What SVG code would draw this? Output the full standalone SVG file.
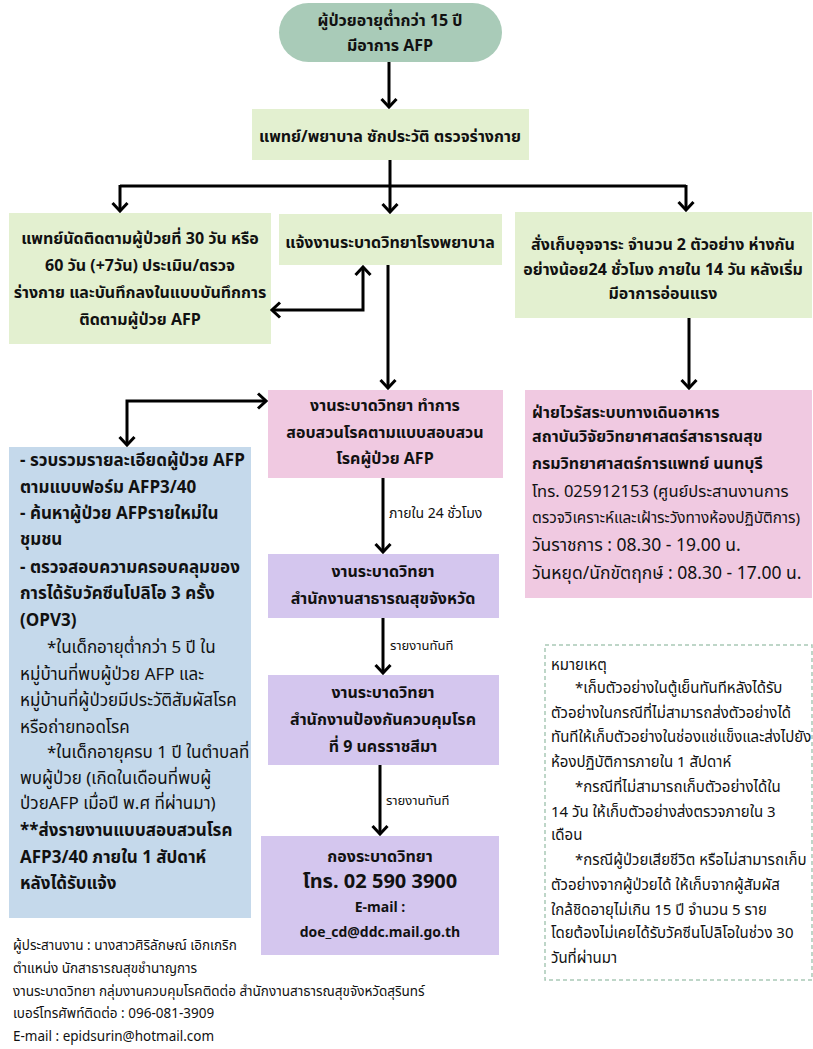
<svg xmlns="http://www.w3.org/2000/svg" width="813" height="1049" viewBox="0 0 813 1049">
<style>
text{font-family:"Noto Sans Thai","Noto Sans","Liberation Sans",sans-serif;fill:#111;}
.b{font-weight:bold;font-size:16px;}
.r{font-weight:normal;font-size:15px;}
.c{text-anchor:middle;}
.sm{font-size:13px;font-weight:normal;}
.nt{font-size:15px;font-weight:normal;}
.ft{font-size:13.5px;font-weight:normal;}
.bx{font-size:17px;}
.green{fill:#e3f0d0;}
.pink{fill:#f0c9e1;}
.blue{fill:#c5d9eb;}
.purple{fill:#d4c6ee;}
.ln{fill:none;stroke:#000;stroke-width:3;}
</style>
<defs>
<marker id="ah" viewBox="0 0 12 18" refX="10" refY="9" markerWidth="12" markerHeight="18" markerUnits="userSpaceOnUse" orient="auto-start-reverse">
<path d="M2,1.5 L10,9 L2,16.5" fill="none" stroke="#000" stroke-width="3"/>
</marker>
</defs>
<rect width="813" height="1049" fill="#fff"/>

<g id="start">
<rect x="279" y="3" width="223" height="59" rx="29.5" fill="#a9cbb8"/>
<text class="b c" x="390" y="26">ผู้ป่วยอายุต่ำกว่า 15 ปี</text>
<text class="b c" x="390" y="51">มีอาการ AFP</text>
</g>

<g id="history">
<rect class="green" x="252" y="109" width="277" height="51"/>
<text class="b c" x="390" y="142">แพทย์/พยาบาล ซักประวัติ ตรวจร่างกาย</text>
</g>

<g id="followup">
<rect class="green" x="9" y="213" width="262" height="131"/>
<text class="b c" x="140" y="244">แพทย์นัดติดตามผู้ป่วยที่ 30 วัน หรือ</text>
<text class="b c" x="140" y="271">60 วัน (+7วัน) ประเมิน/ตรวจ</text>
<text class="b c" x="140" y="298">ร่างกาย และบันทึกลงในแบบบันทึกการ</text>
<text class="b c" x="140" y="325">ติดตามผู้ป่วย AFP</text>
</g>

<g id="notify">
<rect class="green" x="279" y="214" width="223" height="51"/>
<text class="b c" x="390" y="248">แจ้งงานระบาดวิทยาโรงพยาบาล</text>
</g>

<g id="stool">
<rect class="green" x="515" y="212" width="297" height="106"/>
<text class="b c" x="663" y="250">สั่งเก็บอุจจาระ จำนวน 2 ตัวอย่าง ห่างกัน</text>
<text class="b c" x="663" y="275">อย่างน้อย24 ชั่วโมง ภายใน 14 วัน หลังเริ่ม</text>
<text class="b c" x="663" y="299">มีอาการอ่อนแรง</text>
</g>

<g id="investigate">
<rect class="pink" x="268" y="390" width="235" height="88"/>
<text class="b c" x="385" y="411">งานระบาดวิทยา ทำการ</text>
<text class="b c" x="385" y="438">สอบสวนโรคตามแบบสอบสวน</text>
<text class="b c" x="385" y="464">โรคผู้ป่วย AFP</text>
</g>

<g id="lab">
<rect class="pink" x="525" y="390" width="287" height="208"/>
<text class="b" x="532" y="418">ฝ่ายไวรัสระบบทางเดินอาหาร</text>
<text class="b" x="532" y="442">สถาบันวิจัยวิทยาศาสตร์สาธารณสุข</text>
<text class="b" x="532" y="469">กรมวิทยาศาสตร์การแพทย์ นนทบุรี</text>
<text class="r" x="532" y="497" style="font-size:16.5px">โทร. 025912153 (ศูนย์ประสานงานการ</text>
<text class="r" x="532" y="523" style="font-size:15.3px">ตรวจวิเคราะห์และเฝ้าระวังทางห้องปฏิบัติการ)</text>
<text class="r" x="532" y="551" style="font-size:17.5px">วันราชการ : 08.30 - 19.00 น.</text>
<text class="r" x="532" y="579" style="font-size:17.5px">วันหยุด/นักขัตฤกษ์ : 08.30 - 17.00 น.</text>
</g>

<g id="community">
<rect class="blue" x="9" y="447" width="242" height="471"/>
<text class="b bx" x="20" y="466">- รวบรวมรายละเอียดผู้ป่วย AFP</text>
<text class="b bx" x="20" y="493">ตามแบบฟอร์ม AFP3/40</text>
<text class="b bx" x="20" y="519">- ค้นหาผู้ป่วย AFPรายใหม่ใน</text>
<text class="b bx" x="20" y="545">ชุมชน</text>
<text class="b bx" x="20" y="573">- ตรวจสอบความครอบคลุมของ</text>
<text class="b bx" x="20" y="599">การได้รับวัคซีนโปลิโอ 3 ครั้ง</text>
<text class="b bx" x="20" y="626">(OPV3)</text>
<text class="r bx" x="47" y="653">*ในเด็กอายุต่ำกว่า 5 ปี ใน</text>
<text class="r bx" x="20" y="680">หมู่บ้านที่พบผู้ป่วย AFP และ</text>
<text class="r bx" x="20" y="706">หมู่บ้านที่ผู้ป่วยมีประวัติสัมผัสโรค</text>
<text class="r bx" x="20" y="733">หรือถ่ายทอดโรค</text>
<text class="r bx" x="47" y="758">*ในเด็กอายุครบ 1 ปี ในตำบลที่</text>
<text class="r bx" x="20" y="784">พบผู้ป่วย (เกิดในเดือนที่พบผู้</text>
<text class="r bx" x="20" y="809">ป่วยAFP เมื่อปี พ.ศ ที่ผ่านมา)</text>
<text class="b bx" x="20" y="836">**ส่งรายงานแบบสอบสวนโรค</text>
<text class="b bx" x="20" y="863">AFP3/40 ภายใน 1 สัปดาห์</text>
<text class="b bx" x="20" y="889">หลังได้รับแจ้ง</text>
</g>

<g id="province">
<rect class="purple" x="268" y="554" width="231" height="64"/>
<text class="b c" x="383" y="577">งานระบาดวิทยา</text>
<text class="b c" x="383" y="604">สำนักงานสาธารณสุขจังหวัด</text>
</g>

<g id="odpc">
<rect class="purple" x="268" y="675" width="231" height="90"/>
<text class="b c" x="383" y="698">งานระบาดวิทยา</text>
<text class="b c" x="383" y="725">สำนักงานป้องกันควบคุมโรค</text>
<text class="b c" x="383" y="752">ที่ 9 นครราชสีมา</text>
</g>

<g id="doe">
<rect class="purple" x="261" y="836" width="238" height="119"/>
<text class="b c" x="380" y="862">กองระบาดวิทยา</text>
<text class="b c" x="380" y="888" style="font-size:20px">โทร. 02 590 3900</text>
<text class="b c" x="380" y="912" style="font-size:14px">E-mail :</text>
<text class="b c" x="380" y="937" style="font-size:14px">doe_cd@ddc.mail.go.th</text>
</g>

<g id="note">
<rect x="545" y="645" width="267" height="335" fill="#fff" stroke="#a9c9b7" stroke-width="1.5" stroke-dasharray="4 3"/>
<text class="nt" x="551" y="670">หมายเหตุ</text>
<text class="nt" x="575" y="693">*เก็บตัวอย่างในตู้เย็นทันทีหลังได้รับ</text>
<text class="nt" x="551" y="718">ตัวอย่างในกรณีที่ไม่สามารถส่งตัวอย่างได้</text>
<text class="nt" x="551" y="742">ทันทีให้เก็บตัวอย่างในช่องแช่แข็งและส่งไปยัง</text>
<text class="nt" x="551" y="767">ห้องปฏิบัติการภายใน 1 สัปดาห์</text>
<text class="nt" x="575" y="792">*กรณีที่ไม่สามารถเก็บตัวอย่างได้ใน</text>
<text class="nt" x="551" y="817">14 วัน ให้เก็บตัวอย่างส่งตรวจภายใน 3</text>
<text class="nt" x="551" y="840">เดือน</text>
<text class="nt" x="575" y="865">*กรณีผู้ป่วยเสียชีวิต หรือไม่สามารถเก็บ</text>
<text class="nt" x="551" y="890">ตัวอย่างจากผู้ป่วยได้ ให้เก็บจากผู้สัมผัส</text>
<text class="nt" x="551" y="915">ใกล้ชิดอายุไม่เกิน 15 ปี จำนวน 5 ราย</text>
<text class="nt" x="551" y="938">โดยต้องไม่เคยได้รับวัคซีนโปลิโอในช่วง 30</text>
<text class="nt" x="551" y="963">วันที่ผ่านมา</text>
</g>

<g id="footer">
<text class="ft" x="13" y="950">ผู้ประสานงาน : นางสาวศิริลักษณ์ เอิกเกริก</text>
<text class="ft" x="13" y="973">ตำแหน่ง นักสาธารณสุขชำนาญการ</text>
<text class="ft" x="13" y="996">งานระบาดวิทยา กลุ่มงานควบคุมโรคติดต่อ สำนักงานสาธารณสุขจังหวัดสุรินทร์</text>
<text class="ft" x="13" y="1018">เบอร์โทรศัพท์ติดต่อ : 096-081-3909</text>
<text class="ft" x="13" y="1041">E-mail : epidsurin@hotmail.com</text>
</g>

<g id="connectors">
<path class="ln" d="M389,62 L389,107" marker-end="url(#ah)"/>
<path class="ln" d="M390,160 L390,186 M120,186 L686,186"/>
<path class="ln" d="M120,185 L120,211" marker-end="url(#ah)"/>
<path class="ln" d="M390,186 L390,212" marker-end="url(#ah)"/>
<path class="ln" d="M686,185 L686,210" marker-end="url(#ah)"/>
<path class="ln" d="M272,310 L363,310 L363,267" marker-start="url(#ah)" marker-end="url(#ah)"/>
<path class="ln" d="M388,265 L388,388" marker-end="url(#ah)"/>
<path class="ln" d="M689,318 L689,388" marker-end="url(#ah)"/>
<path class="ln" d="M266,401 L127,401 L127,445" marker-start="url(#ah)" marker-end="url(#ah)"/>
<path class="ln" d="M383,478 L383,552" marker-end="url(#ah)"/>
<text class="sm" x="389" y="518" style="font-size:14px">ภายใน 24 ชั่วโมง</text>
<path class="ln" d="M383,618 L383,673" marker-end="url(#ah)"/>
<text class="sm" x="390" y="650">รายงานทันที</text>
<path class="ln" d="M380,765 L380,834" marker-end="url(#ah)"/>
<text class="sm" x="386" y="805">รายงานทันที</text>
</g>
</svg>
